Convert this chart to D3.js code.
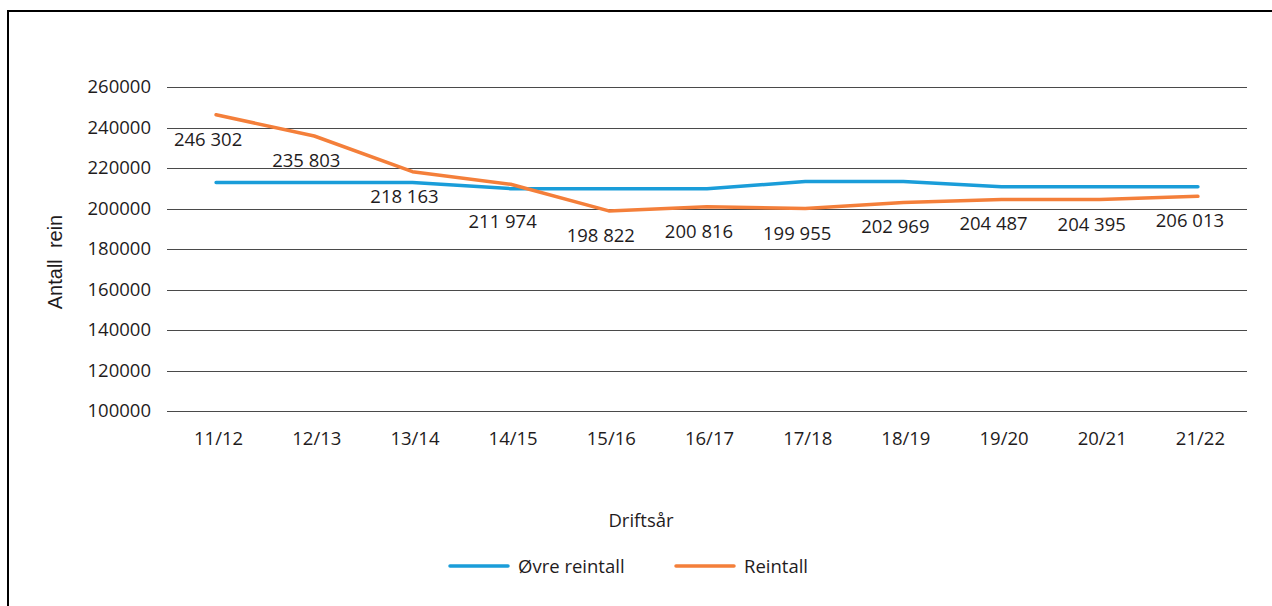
<!DOCTYPE html>
<html>
<head>
<meta charset="utf-8">
<script src="https://cdn.jsdelivr.net/npm/d3@7"></script>
<style>
  body { margin: 0; background: #fff; }
  text { font-family: "Open Sans", sans-serif; fill: #1f1c1d; }
</style>
</head>
<body>
<svg id="chart"></svg>
<script>
// data
var seasons = ["11/12", "12/13", "13/14", "14/15", "15/16", "16/17", "17/18", "18/19", "19/20", "20/21", "21/22"];
var ovreReintall = [212800, 212800, 212800, 209800, 209800, 209800, 213300, 213300, 210800, 210800, 210800];
var reintall = [246302, 235803, 218163, 211974, 198822, 200816, 199955, 202969, 204487, 204395, 206013];
var yTicks = [100000, 120000, 140000, 160000, 180000, 200000, 220000, 240000, 260000];
var seriesNames = ["Øvre reintall", "Reintall"];

var svg = d3.select("#chart")
    .attr("width", 1272)
    .attr("height", 606);

var blue = "#1a9dd9",
    orange = "#f47f3a",
    fontSize = "18.5px";

// outer frame (runs off the page on right/bottom)
svg.append("rect")
    .attr("x", 8).attr("y", 11)
    .attr("width", 1400).attr("height", 700)
    .style("fill", "none")
    .style("stroke", "#000")
    .style("stroke-width", 2);

var margin = {top: 87, left: 167},
    width = 1080,
    height = 324;

var g = svg.append("g").attr("transform", "translate(" + margin.left + "," + margin.top + ")");

var x = d3.scalePoint().domain(seasons).range([0, width]).padding(0.5),
    y = d3.scaleLinear().domain([100000, 260000]).range([height, 0]);

// gridlines
g.selectAll(".grid")
    .data(yTicks)
    .enter().append("line")
    .attr("class", "grid")
    .attr("x1", 0).attr("x2", width)
    .attr("y1", function(d) { return Math.round(y(d)) + 0.5; })
    .attr("y2", function(d) { return Math.round(y(d)) + 0.5; })
    .style("stroke", "#4a4a4a")
    .style("stroke-width", 1);

// y axis labels
var yAxis = g.append("g")
    .call(d3.axisLeft(y).tickValues(yTicks).tickSize(0).tickPadding(16).tickFormat(d3.format("d")));
yAxis.select(".domain").remove();
yAxis.selectAll("text")
    .style("font-family", "Open Sans, sans-serif")
    .style("font-size", fontSize)
    .style("fill", "#1f1c1d");

// x axis labels
var xAxis = g.append("g")
    .attr("transform", "translate(0," + height + ")")
    .call(d3.axisBottom(x).tickSize(0).tickPadding(21));
xAxis.select(".domain").remove();
xAxis.selectAll("text")
    .attr("dx", 2)
    .style("font-family", "Open Sans, sans-serif")
    .style("font-size", fontSize)
    .style("fill", "#1f1c1d");

// lines
var line = d3.line()
    .x(function(d, i) { return x(seasons[i]); })
    .y(function(d) { return y(d); });

g.append("path")
    .datum(ovreReintall)
    .attr("d", line)
    .style("fill", "none")
    .style("stroke", blue)
    .style("stroke-width", 3.5)
    .style("stroke-linecap", "round")
    .style("stroke-linejoin", "round");

g.append("path")
    .datum(reintall)
    .attr("d", line)
    .style("fill", "none")
    .style("stroke", orange)
    .style("stroke-width", 3.5)
    .style("stroke-linecap", "round")
    .style("stroke-linejoin", "round");

// data labels, under the orange points (one nudged below the blue line)
var labelNudge = {3: 13};
var fmt = function(v) { return d3.format(",")(v).replace(",", " "); };

g.selectAll(".dlabel")
    .data(reintall)
    .enter().append("text")
    .attr("class", "dlabel")
    .attr("x", function(d, i) { return x(seasons[i]) - 8; })
    .attr("y", function(d, i) { return y(d) + 31 + (labelNudge[i] || 0); })
    .attr("text-anchor", "middle")
    .style("font-size", fontSize)
    .text(fmt);

// axis titles
svg.append("text")
    .attr("transform", "translate(62,262) rotate(-90)")
    .attr("text-anchor", "middle")
    .style("font-family", "Liberation Sans, Arial, sans-serif")
    .style("font-size", "20px")
    .style("white-space", "pre")
    .text("Antall  rein");

svg.append("text")
    .attr("x", 641).attr("y", 527)
    .attr("text-anchor", "middle")
    .style("font-size", fontSize)
    .text("Driftsår");

// legend
var legendX = [450, 676];
var legend = svg.selectAll(".legend")
    .data(seriesNames)
    .enter().append("g")
    .attr("class", "legend")
    .attr("transform", function(d, i) { return "translate(" + legendX[i] + ",566)"; });

legend.append("line")
    .attr("x1", 0).attr("x2", 58)
    .style("stroke", function(d, i) { return i === 0 ? blue : orange; })
    .style("stroke-width", 3.5)
    .style("stroke-linecap", "round");

legend.append("text")
    .attr("x", 68).attr("y", 6.5)
    .style("font-size", fontSize)
    .text(function(d) { return d; });
</script>
</body>
</html>
